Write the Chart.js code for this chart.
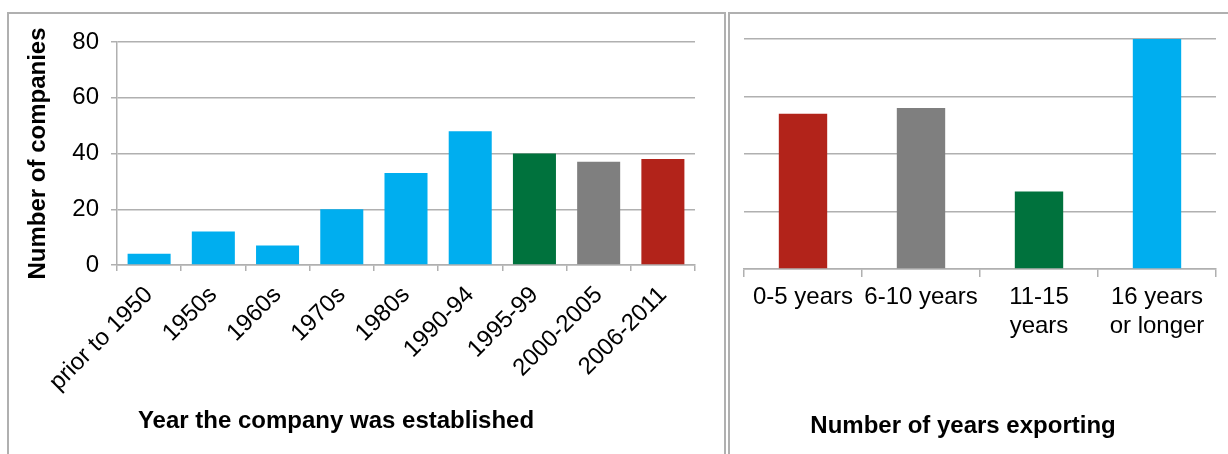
<!DOCTYPE html>
<html>
<head>
<meta charset="utf-8">
<title>Companies by founding year and years exporting</title>
<script src="https://cdn.jsdelivr.net/npm/chart.js@4/dist/chart.umd.min.js"></script>
<style>
  html, body { margin: 0; padding: 0; background: #fff; overflow: hidden; }
  body { width: 1228px; height: 454px; position: relative; }
  .panel {
    position: absolute;
    top: 12px;
    height: 460px;
    box-sizing: border-box;
    border: 2px solid #b0b0b0;
    border-bottom: none;
    background: #fff;
  }
  #panelLeft { left: 7px; width: 719px; }
  #panelRight { left: 728px; width: 520px; border-right: none; }
  canvas { display: block; }
</style>
</head>
<body>
<div class="panel" id="panelLeft"><canvas id="chartYear" width="715" height="440"></canvas></div>
<div class="panel" id="panelRight"><canvas id="chartExport" width="498" height="440"></canvas></div>
<script>
// Founding period of the surveyed companies
const yearCategories = ['prior to 1950', '1950s', '1960s', '1970s', '1980s', '1990-94', '1995-99', '2000-2005', '2006-2011'];
const yearCounts = [4, 12, 7, 20, 33, 48, 40, 37, 38];

// How long the same companies have been exporting
const exportCategories = [['0-5 years'], ['6-10 years'], ['11-15', 'years'], ['16 years', 'or longer']];
const exportCounts = [54, 56, 27, 102];

// Shared value axis
const axisMin = 0;
const axisMax = 80;
const axisStep = 20;

const BLUE = '#00aeef';
const GREEN = '#00723d';
const GREY = '#7f7f7f';
const RED = '#b2231a';
const LINE = '#b0b0b0';
const FONT = "'Liberation Sans', Arial, Helvetica, sans-serif";

const yearColors = [BLUE, BLUE, BLUE, BLUE, BLUE, BLUE, GREEN, GREY, RED];
const exportColors = [RED, GREY, GREEN, BLUE];

Chart.defaults.font.family = FONT;
Chart.defaults.color = '#000';

// Draws a bold axis caption at a fixed spot in the canvas
const captionPlugin = {
  id: 'caption',
  afterDraw(chart, args, opts) {
    if (!opts || !opts.text) return;
    const ctx = chart.ctx;
    ctx.save();
    ctx.font = 'bold ' + opts.size + 'px ' + FONT;
    ctx.fillStyle = '#000';
    ctx.textAlign = 'center';
    ctx.textBaseline = 'alphabetic';
    ctx.fillText(opts.text, opts.x, opts.y);
    ctx.restore();
  }
};

new Chart(document.getElementById('chartYear'), {
  type: 'bar',
  data: {
    labels: yearCategories,
    datasets: [{
      data: yearCounts,
      backgroundColor: yearColors,
      borderWidth: 0,
      categoryPercentage: 1,
      barPercentage: 0.67
    }]
  },
  options: {
    responsive: false,
    animation: false,
    devicePixelRatio: 1,
    layout: { padding: { top: 28, right: 29, left: 0, bottom: 0 } },
    plugins: {
      legend: { display: false },
      tooltip: { enabled: false },
      caption: { text: 'Year the company was established', x: 327, y: 414, size: 24 }
    },
    scales: {
      x: {
        grid: { drawOnChartArea: false, offset: true, tickLength: 6, color: LINE, lineWidth: 1.5 },
        border: { display: true, color: LINE, width: 1.5 },
        ticks: { minRotation: 45, maxRotation: 45, font: { size: 24 }, padding: 10, color: '#000' },
        afterFit(scale) { scale.height = 189; }
      },
      y: {
        min: axisMin,
        max: axisMax,
        ticks: { stepSize: axisStep, font: { size: 24 }, padding: 12, color: '#000' },
        grid: { color: LINE, lineWidth: 1.5, tickLength: 6 },
        border: { display: true, color: LINE, width: 1.5 },
        title: {
          display: true,
          text: 'Number of companies',
          font: { size: 24, weight: 'bold' },
          padding: { top: 15, bottom: 0 },
          color: '#000'
        },
        afterFit(scale) { scale.width = 108; }
      }
    }
  },
  plugins: [captionPlugin]
});

new Chart(document.getElementById('chartExport'), {
  type: 'bar',
  data: {
    labels: exportCategories,
    datasets: [{
      data: exportCounts,
      backgroundColor: exportColors,
      borderWidth: 0,
      categoryPercentage: 1,
      barPercentage: 0.41
    }]
  },
  options: {
    responsive: false,
    animation: false,
    devicePixelRatio: 1,
    layout: { padding: { top: 25, right: 12, left: 14, bottom: 0 } },
    plugins: {
      legend: { display: false },
      tooltip: { enabled: false },
      caption: { text: 'Number of years exporting', x: 233, y: 419, size: 24 }
    },
    scales: {
      x: {
        grid: { drawOnChartArea: false, offset: true, tickLength: 8, color: LINE, lineWidth: 1.5 },
        border: { display: true, color: LINE, width: 1.5 },
        ticks: { maxRotation: 0, minRotation: 0, font: { size: 24 }, padding: 6, color: '#000' },
        afterFit(scale) { scale.height = 185; }
      },
      y: {
        min: axisMin,
        max: axisMax,
        ticks: { display: false, stepSize: axisStep },
        grid: { color: LINE, lineWidth: 1.5, drawTicks: false },
        border: { display: false },
        afterFit(scale) { scale.width = 0; }
      }
    }
  },
  plugins: [captionPlugin]
});
</script>
</body>
</html>
